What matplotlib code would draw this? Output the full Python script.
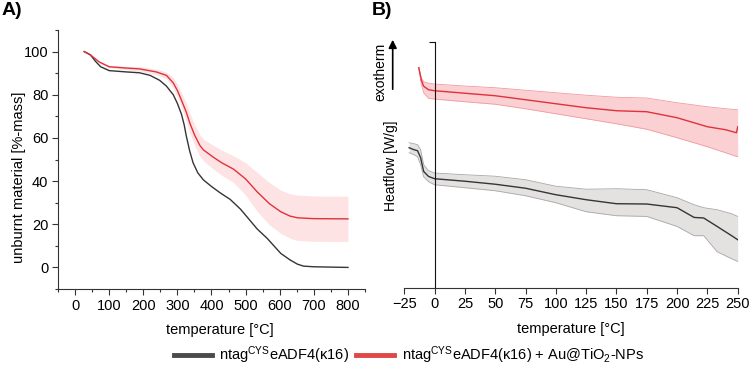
import matplotlib
matplotlib.use('Agg')
import matplotlib.pyplot as plt
from matplotlib.ticker import MultipleLocator
import numpy as np

plt.rcParams['font.family'] = ['Liberation Sans', 'DejaVu Sans']
plt.rcParams['mathtext.fontset'] = 'custom'
plt.rcParams['mathtext.rm'] = 'Liberation Sans'
plt.rcParams['mathtext.it'] = 'Liberation Sans:italic'

# TGA (panel A)
tga_temp_silk = [27, 45, 60, 75, 100, 150, 189, 220, 248, 268, 288, 300, 312, 320, 326, 336, 346, 360, 376,
                 400, 426, 455, 485, 534, 563, 603, 630, 652, 670, 700, 800]
tga_mass_silk = [100, 98.5, 95.5, 93, 91.2, 90.6, 90.2, 89, 86.7, 84, 80, 76, 71, 66, 61, 54, 48.5, 43.8, 40.6,
                 37.5, 34.5, 31.5, 27, 17.8, 13.5, 6.5, 3.5, 1.5, 0.6, 0.3, 0]

tga_temp_np = [27, 45, 71, 100, 150, 189, 238, 268, 288, 300, 312, 326, 337, 350, 366, 376, 406, 430,
               465, 500, 534, 570, 603, 630, 652, 700, 800]
tga_mass_np = [100, 98.5, 95.2, 93, 92.4, 92, 90.6, 89, 85.5, 82, 77.5, 72, 66.7, 61.5, 56.5, 54.5, 51, 48.5,
               45.5, 41, 35, 29.5, 25.8, 23.8, 23, 22.6, 22.5]
tga_sd_np = [0, 0.3, 0.4, 0.5, 0.8, 1, 1.3, 1.5, 2.5, 3, 3.5, 4, 4.5, 4.8, 5, 5, 5.5, 5.8,
             6.2, 7.5, 9, 9.8, 10, 10.3, 10.5, 10.5, 10.5]

# DSC (panel B), arbitrary heatflow units
dsc_temp_np = [-13, -11, -9, -5, 0, 25, 50, 75, 100, 125, 150, 175, 200, 225, 240, 249, 250]
dsc_flow_np = [2.20, 2.08, 2.015, 1.98, 1.97, 1.945, 1.92, 1.88, 1.84, 1.80, 1.77, 1.76, 1.70, 1.61,
               1.58, 1.55, 1.61]
dsc_up_np = [2.20, 2.10, 2.06, 2.045, 2.037, 2.017, 2.00, 1.975, 1.95, 1.925, 1.905, 1.897, 1.85, 1.81,
             1.79, 1.78, 1.78]
dsc_lo_np = [2.20, 2.04, 1.95, 1.895, 1.887, 1.86, 1.835, 1.79, 1.74, 1.69, 1.64, 1.585, 1.50, 1.41,
             1.35, 1.313, 1.313]

dsc_temp_silk = [-21, -17, -14, -11.5, -9, -5, 0, 25, 50, 75, 100, 125, 150, 175, 200, 214, 222, 233,
                 245, 250]
dsc_flow_silk = [1.40, 1.38, 1.37, 1.30, 1.163, 1.113, 1.09, 1.065, 1.035, 0.995, 0.93, 0.88, 0.84, 0.837,
                 0.80, 0.703, 0.697, 0.613, 0.52, 0.48]
dsc_up_silk = [1.45, 1.44, 1.43, 1.38, 1.23, 1.17, 1.147, 1.13, 1.115, 1.08, 1.015, 0.985, 0.99, 0.98,
               0.90, 0.83, 0.80, 0.78, 0.74, 0.713]
dsc_lo_silk = [1.35, 1.33, 1.31, 1.23, 1.11, 1.06, 1.03, 1.00, 0.97, 0.92, 0.85, 0.76, 0.72, 0.713,
               0.613, 0.52, 0.52, 0.36, 0.29, 0.263]

label_silk = r'ntag$^{\mathrm{CYS}}$eADF4(κ16)'
label_np = r'ntag$^{\mathrm{CYS}}$eADF4(κ16) + Au@TiO$_{\mathrm{2}}$-NPs'

c_black = '#353535'
c_red = '#e0323c'
fs = 10.5

fig = plt.figure(figsize=(7.5, 3.71), dpi=100)
axA = fig.add_axes([0.0773, 0.221, 0.4094, 0.698])
axB = fig.add_axes([0.539, 0.2245, 0.4446, 0.663])

# Panel A
tga_mass_np = np.array(tga_mass_np)
tga_sd_np = np.array(tga_sd_np)
axA.fill_between(tga_temp_np, tga_mass_np - tga_sd_np, tga_mass_np + tga_sd_np,
                 color='#fde3e3', lw=0)
axA.plot(tga_temp_silk, tga_mass_silk, c=c_black, lw=1.0)
axA.plot(tga_temp_np, tga_mass_np, c=c_red, lw=1.0)

axA.set_xlim(-50, 850)
axA.set_ylim(-10, 110)
axA.xaxis.set_minor_locator(MultipleLocator(50))
axA.yaxis.set_minor_locator(MultipleLocator(10))
axA.set_yticks([0, 20, 40, 60, 80, 100])
axA.set_xticks(range(0, 900, 100))
for s in ['top', 'right']:
    axA.spines[s].set_visible(False)
for s in ['left', 'bottom']:
    axA.spines[s].set_color('#333333')
    axA.spines[s].set_linewidth(0.8)
axA.tick_params(which='major', direction='out', length=4, width=0.8, color='#333333',
                labelsize=fs, pad=3)
axA.tick_params(which='minor', direction='out', length=2.5, width=0.8, color='#333333')
axA.set_xlabel('temperature [°C]', fontsize=fs)
axA.xaxis.set_label_coords(0.528, -0.13)
axA.set_ylabel('unburnt material [%-mass]', fontsize=fs)
axA.yaxis.set_label_coords(-0.105, 0.43)

# Panel B
axB.fill_between(dsc_temp_np, dsc_lo_np, dsc_up_np, color='#fbd0d3', lw=0)
axB.plot(dsc_temp_np, dsc_up_np, c='#f09aa0', lw=0.6)
axB.plot(dsc_temp_np, dsc_lo_np, c='#f09aa0', lw=0.6)
axB.plot(dsc_temp_np, dsc_flow_np, c=c_red, lw=1.0)

axB.fill_between(dsc_temp_silk, dsc_lo_silk, dsc_up_silk, color='#e4e1e1', lw=0)
axB.plot(dsc_temp_silk, dsc_up_silk, c='#a8a6a6', lw=0.6)
axB.plot(dsc_temp_silk, dsc_lo_silk, c='#a8a6a6', lw=0.6)
axB.plot(dsc_temp_silk, dsc_flow_silk, c=c_black, lw=1.0)

axB.set_xlim(-25, 250)
axB.set_ylim(0, 2.46)
axB.set_xticks(range(-25, 275, 25))
axB.set_yticks([2.46])
axB.set_yticklabels([])
axB.spines['left'].set_position(('data', 0))
for s in ['top', 'right']:
    axB.spines[s].set_visible(False)
axB.spines['left'].set_color('#111111')
axB.spines['left'].set_linewidth(0.8)
axB.spines['bottom'].set_color('#333333')
axB.spines['bottom'].set_linewidth(0.8)
axB.tick_params(axis='x', direction='out', length=4, width=0.8, color='#333333', labelsize=fs, pad=3)
axB.tick_params(axis='y', direction='out', length=4, width=0.8, color='#111111')
axB.set_xlabel('temperature [°C]', fontsize=fs)
axB.xaxis.set_label_coords(0.5, -0.14)

fig.text(390.5 / 750, 1 - 166 / 371, 'Heatflow [W/g]', rotation=90, fontsize=10,
         ha='center', va='center')
fig.text(380 / 750, 1 - 72 / 371, 'exotherm', rotation=90, fontsize=10,
         ha='center', va='center')
fig.add_artist(matplotlib.patches.FancyArrowPatch(
    (392.7 / 750, 1 - 92 / 371), (392.7 / 750, 1 - 37 / 371), transform=fig.transFigure,
    arrowstyle='-|>', mutation_scale=12, lw=1.2, color='black'))

# Panel letters
fig.text(0.002, 0.995, 'A)', fontsize=14, fontweight='bold', ha='left', va='top')
fig.text(372 / 750, 0.995, 'B)', fontsize=14, fontweight='bold', ha='left', va='top')

# Legend
h1, = axA.plot([], [], c='#4a4a4a', lw=3.5)
h2, = axA.plot([], [], c='#e04848', lw=3.5)
fig.legend([h1, h2], [label_silk, label_np], ncol=2, loc='center', bbox_to_anchor=(0.545, 0.043),
           frameon=False, fontsize=fs, handlelength=2.6, handletextpad=0.5, columnspacing=0.5)

fig.savefig('out.png', dpi=100)
